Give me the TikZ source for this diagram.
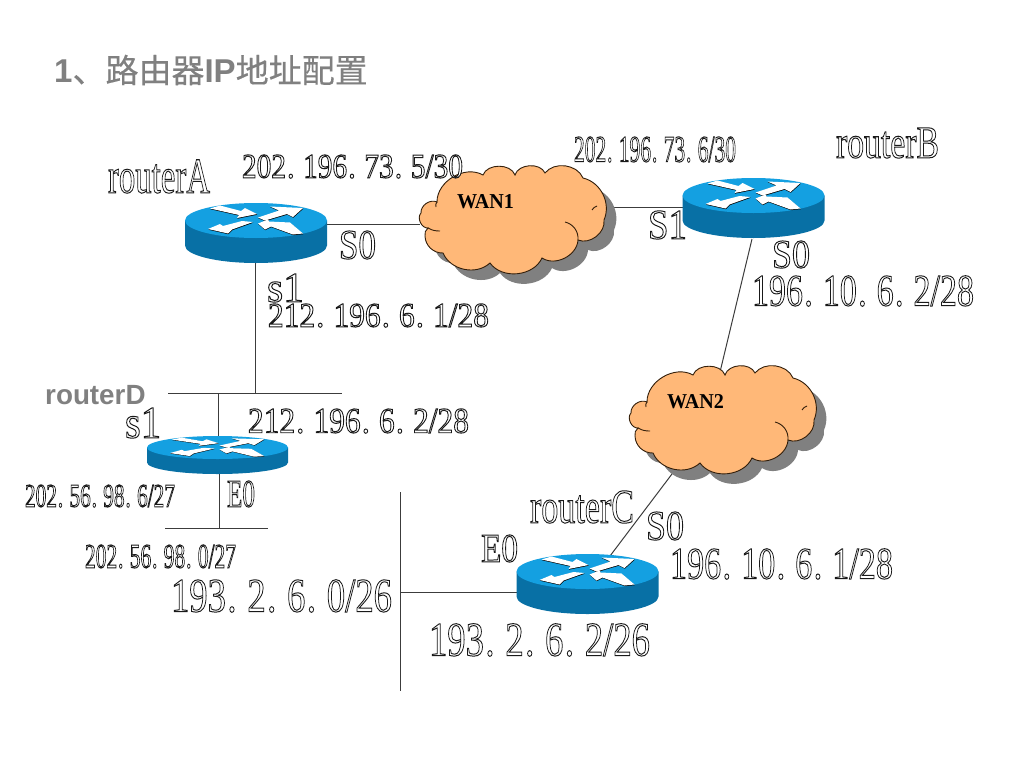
\documentclass[tikz,border=0pt]{standalone}
\usepackage{graphicx}
\usepackage{fontspec}
\setmainfont{Liberation Serif}
\setsansfont{Liberation Sans}
\newfontfamily\cjk{Noto Sans CJK SC}[FakeBold=0.4]
\usetikzlibrary{backgrounds}
\definecolor{rtop}{RGB}{20,160,225}
\definecolor{rside}{RGB}{8,112,165}
\definecolor{cloudfill}{RGB}{255,184,120}
\definecolor{cloudshadow}{RGB}{128,128,128}
\definecolor{cloudline}{RGB}{50,30,10}
\definecolor{titlegray}{RGB}{128,128,128}
\definecolor{linegray}{RGB}{60,60,60}
\newcommand{\outl}[1]{\special{pdf:code 2 Tr \sw\space w 1 1 1 rg 0.1 0.1 0.1 RG}#1\special{pdf:code 0 Tr 0 0 0 rg 0 0 0 RG}}
\newcommand{\dt}{\kern.4pt.\kern.45pt\ }
\tikzset{
  lbl/.style={inner sep=0pt,outer sep=0pt,anchor=center},
  wire/.style={draw=linegray,line width=1pt},
  box/.style={inner sep=0pt,outer sep=0pt,draw=none,fill=none,rectangle},
  lobe/.style={draw=cloudline,line width=0.9pt},
}
% \lab{name}{x1}{y1}{x2}{y2}{text}: real text fitted into a box
\newcommand{\lab}[6]{%
  \pgfmathsetmacro{\lw}{#4-#2}\pgfmathsetmacro{\lh}{#5-#3}\pgfmathsetmacro{\sw}{6.6/(#5-#3)}%
  \node[lbl] (#1) at ({(#2+#4)/2},{(#3+#5)/2}) {\resizebox{\lw pt}{\lh pt}{\outl{#6}}};}
\newcommand{\arrowpolys}[1]{%
  \fill[#1] (-46,-12)--(-36,-15)--(-15,-9.5)--(-11,-12.5)--(1,-6.5)--(-19,-2.5)--(-17,-5.5)--cycle;
  \fill[#1] (47,-12.5)--(14,-14)--(23,-10)--(2,-3)--(9,0)--(31,-6.5)--(37,-3.5)--cycle;
  \fill[#1] (-48,8.5)--(-36,3.5)--(-33,5.5)--(-14,0.5)--(-3,1.5)--(-24,9)--(-28,13)--cycle;
  \fill[#1] (2,3)--(12,-1)--(13,1)--(34,2)--(47,13)--(37,14)--(15,6)--(9,9)--cycle;
}
% \router{name}{cx}{cy of top ellipse}{rx}{ry}{side height}
\newcommand{\router}[6]{%
  \node[box,minimum width=#4*2pt,minimum height=#5*2pt+#6pt] (#1) at (#2,#3+#6/2) {};
  \fill[rside] (#2-#4,#3) -- (#2-#4,#3+#6) arc[start angle=180,end angle=360,x radius=#4,y radius=-#5] -- (#2+#4,#3) -- cycle;
  \fill[rtop] (#2,#3) ellipse[x radius=#4,y radius=#5];
  \begin{scope}[shift={(#2,#3)},xscale=#4/71,yscale=#5/17.5]
    \begin{scope}[shift={(0.3,0.7)}]\arrowpolys{black}\end{scope}
    \arrowpolys{white}
  \end{scope}
}
\newcommand{\cloudpath}{%
  (437,202) to[bend left=60] (483,175) to[bend left=70] (515,175) to[bend left=70] (545,173)
  to[bend left=60] (583,178) to[bend left=50] (604,220) to[bend left=60] (578,240)
  to[bend left=60] (542,258) to[bend left=60] (490,263) to[bend left=55] (443,253)
  to[bend left=45] (425,236) to[bend left=30] (428,228) to[bend left=70] (421,213) to[bend left=60] (437,202) -- cycle}
\newcommand{\cloud}[4]{%
  \node[box,minimum width=184pt,minimum height=98pt] (#1) at (512+#2,219+#3) {};
  \begin{scope}[shift={(#2+10,#3+10)}]\fill[cloudshadow] \cloudpath;\end{scope}
  \begin{scope}[shift={(#2,#3)}]
    \filldraw[fill=cloudfill,lobe] \cloudpath;
    \draw[lobe] (428,228) to[bend right=15] (440,231);
    \draw[lobe] (578,240) to[bend right=40] (565,222);
    \draw[lobe] (437,202) to[bend right=30] (436,207);
    \draw[lobe] (592,210) to[bend left=20] (597,206);
    \node[lbl] at (485.5,202) {\resizebox{57pt}{14pt}{\bfseries #4}};
  \end{scope}
}
\begin{document}
\begin{tikzpicture}[x=1pt,y=-1pt]
\useasboundingbox (0,0) rectangle (1024,768);
\node[anchor=west,inner sep=0pt,text=titlegray] (title) at (54,70)
  {\fontsize{33}{36}\selectfont\sffamily\bfseries 1{\cjk\mdseries 、路由器}IP{\cjk\mdseries 地址配置}};

\router{ra}{256}{220.5}{71}{17.5}{25}
\router{rb}{753.5}{195.5}{71}{17.5}{25}
\router{rc}{587.5}{571.5}{71}{17.5}{25}
\router{rd}{217.5}{447.5}{70.5}{11.5}{15}
\cloud{wana}{0}{0}{WAN1}
\cloud{wanb}{210}{200}{WAN2}

\coordinate (busd1) at (168,393);
\coordinate (busd2) at (342,393);
\coordinate (busdj) at (218,393);
\coordinate (busdk) at (255,393);
\coordinate (buse1) at (165,528);
\coordinate (buse2) at (268,528);
\coordinate (busej) at (219,528);
\coordinate (busc1) at (400,492);
\coordinate (busc2) at (400,691);
\coordinate (buscj) at (400,592);
\coordinate (rbp) at (752,239);
\coordinate (wbt) at (720,372);
\coordinate (wbb) at (675,470);
\coordinate (rcp) at (610,556);

\begin{scope}[on background layer]
\draw[wire] (ra.east |- 0,224) -- (wana.west |- 0,224);
\draw[wire] (wana.east |- 0,207) -- (rb.west |- 0,207);
\draw[wire] (ra.south -| busdk) -- (busdk);
\draw[wire] (busd1) -- (busd2);
\draw[wire] (busdj) -- (rd.north -| busdj);
\draw[wire] (rd.south -| busej) -- (busej);
\draw[wire] (buse1) -- (buse2);
\draw[wire] (rbp) -- (wbt);
\draw[wire] (wbb) -- (rcp);
\draw[wire] (rc.west |- buscj) -- (buscj);
\draw[wire] (busc1) -- (busc2);
\end{scope}

\lab{la}{108}{160}{210}{193}{routerA}
\lab{lb}{836}{128}{939}{158}{routerB}
\lab{lc}{530}{491}{634}{523}{routerC}
\node[anchor=west,inner sep=0pt,text=titlegray] (ld) at (45,395) {\fontsize{27.8}{30}\selectfont\sffamily\bfseries routerD};
\lab{ipa}{242}{155}{463}{178}{202\dt 196\dt 73\dt 5/30}
\lab{ipb}{574}{137}{736}{162}{202\dt 196\dt 73\dt 6/30}
\lab{sa}{339}{231}{376}{259}{S0}
\lab{sb}{648}{211}{687}{239}{S1}
\lab{sc}{772}{241}{810}{268}{S0}
\lab{ipc}{752}{276}{974}{306}{196\dt 10\dt 6\dt 2/28}
\lab{sd}{267}{274}{304}{302}{s1}
\lab{ipd}{268}{304}{489}{327}{212\dt 196\dt 6\dt 1/28}
\lab{se}{125}{408}{161}{438}{s1}
\lab{ipe}{248}{409}{469}{433}{212\dt 196\dt 6\dt 2/28}
\lab{ipf}{25}{485}{175}{507}{202\dt 56\dt 98\dt 6/27}
\lab{sf}{227}{481}{255}{507}{E0}
\lab{ipg}{85}{545}{236}{568}{202\dt 56\dt 98\dt 0/27}
\lab{iph}{171}{580}{392}{612}{193\dt 2\dt 6\dt 0/26}
\lab{sg}{481}{535}{518}{562}{E0}
\lab{sh}{646}{512}{684}{540}{S0}
\lab{ipi}{670}{549}{893}{579}{196\dt 10\dt 6\dt 1/28}
\lab{ipj}{429}{624}{650}{656}{193\dt 2\dt 6\dt 2/26}
\end{tikzpicture}
\end{document}
